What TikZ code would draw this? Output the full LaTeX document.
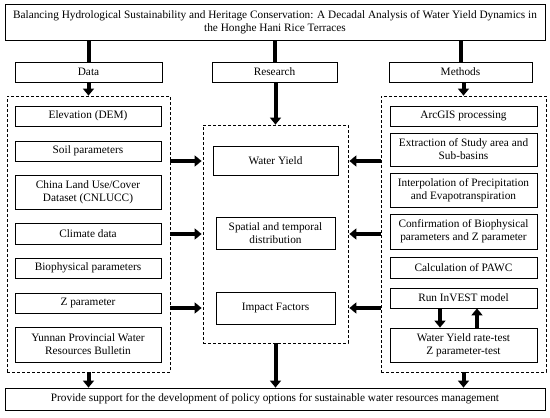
\documentclass[tikz,border=0pt]{standalone}
\usepackage{fontspec}
\setmainfont{Liberation Serif}
\usetikzlibrary{arrows.meta}
\begin{document}
\begin{tikzpicture}[x=1pt,y=-1pt,
  box/.style={draw=black,line width=0.8pt,rectangle,inner sep=0pt,align=center,font=\fontsize{11.3}{13}\selectfont},
  dbox/.style={draw=black,line width=0.8pt,dash pattern=on 3pt off 2pt,rectangle,inner sep=0pt},
  bar/.style={line width=4pt,black},
  arr/.style={line width=4pt,black,-{Triangle[length=7pt,width=11pt]}}]
\useasboundingbox (0,0) rectangle (550,418);
\fill[white] (0,0) rectangle (550,418);
% title
\node[box,minimum width=540pt,minimum height=36pt] (title) at (275,22) {Balancing Hydrological Sustainability and Heritage Conservation: A Decadal Analysis of Water Yield Dynamics in\\the Honghe Hani Rice Terraces};
% headers
\node[box,minimum width=147pt,minimum height=20pt] (data) at (88.5,72) {Data};
\node[box,minimum width=125pt,minimum height=20pt] (research) at (274.5,72) {Research};
\node[box,minimum width=143pt,minimum height=20pt] (methods) at (460.5,72) {Methods};
% dashed containers
\node[dbox,minimum width=163pt,minimum height=276pt] (dd) at (88.5,234) {};
\node[dbox,minimum width=145pt,minimum height=218pt] (rd) at (275.5,234) {};
\node[dbox,minimum width=165pt,minimum height=276pt] (md) at (463.5,234) {};
% data items
\node[box,minimum width=146pt,minimum height=20pt] (dem) at (88,116) {Elevation (DEM)};
\node[box,minimum width=146pt,minimum height=20pt] (soil) at (88,151) {Soil parameters};
\node[box,minimum width=146pt,minimum height=34pt] (cnl) at (88,192) {China Land Use/Cover\\Dataset (CNLUCC)};
\node[box,minimum width=146pt,minimum height=21pt] (clim) at (88,233.5) {Climate data};
\node[box,minimum width=146pt,minimum height=20pt] (bio) at (88,268) {Biophysical parameters};
\node[box,minimum width=146pt,minimum height=20pt] (zp) at (88,303) {Z parameter};
\node[box,minimum width=146pt,minimum height=35pt] (yun) at (88,344.5) {Yunnan Provincial Water\\Resources Bulletin};
% research items
\node[box,minimum width=125pt,minimum height=29pt] (wy) at (275.5,160.5) {Water Yield};
\node[box,minimum width=119pt,minimum height=32pt] (sp) at (275.5,233) {Spatial and temporal\\distribution};
\node[box,minimum width=119pt,minimum height=32pt] (imp) at (275.5,308) {Impact Factors};
% methods items
\node[box,minimum width=147pt,minimum height=20pt] (arc) at (463.5,116) {ArcGIS processing};
\node[box,minimum width=147pt,minimum height=33pt] (ext) at (463.5,149.5) {Extraction of Study area and\\Sub-basins};
\node[box,minimum width=147pt,minimum height=34pt] (int) at (463.5,190) {Interpolation of Precipitation\\and Evapotranspiration};
\node[box,minimum width=147pt,minimum height=35pt] (conf) at (463.5,231.5) {Confirmation of Biophysical\\parameters and Z parameter};
\node[box,minimum width=147pt,minimum height=21pt] (pawc) at (463.5,267.5) {Calculation of PAWC};
\node[box,minimum width=147pt,minimum height=20pt] (inv) at (463.5,298) {Run InVEST model};
\node[box,minimum width=147pt,minimum height=34pt] (test) at (463.5,345) {Water Yield rate-test\\Z parameter-test};
% bottom
\node[box,minimum width=540pt,minimum height=22pt] (bot) at (275,399) {Provide support for the development of policy options for sustainable water resources management};
% title bars
\draw[bar] (title.south -| data) -- (data.north);
\draw[bar] (title.south -| research) -- (research.north);
\draw[bar] (title.south -| methods) -- (methods.north);
% header arrows
\draw[arr] (data.south) -- (dd.north -| data);
\draw[arr] (research.south -| rd) -- (rd.north);
\draw[arr] (methods.south -| md) -- (md.north);
% side arrows
\foreach \yy in {161,234,308}{
  \draw[arr] (dd.east |- 0,\yy) -- ([xshift=-1pt]rd.west |- 0,\yy);
  \draw[arr] (md.west |- 0,\yy) -- ([xshift=1pt]rd.east |- 0,\yy);
}
% invest loop
\draw[arr] (inv.south -| 440,0) -- (test.north -| 440,0);
\draw[arr] (test.north -| 477,0) -- (inv.south -| 477,0);
% bottom arrows
\draw[arr] (dd.south) -- (bot.north -| dd);
\draw[arr] (rd.south) -- (bot.north -| rd);
\draw[arr] (md.south) -- (bot.north -| md);
\end{tikzpicture}
\end{document}
